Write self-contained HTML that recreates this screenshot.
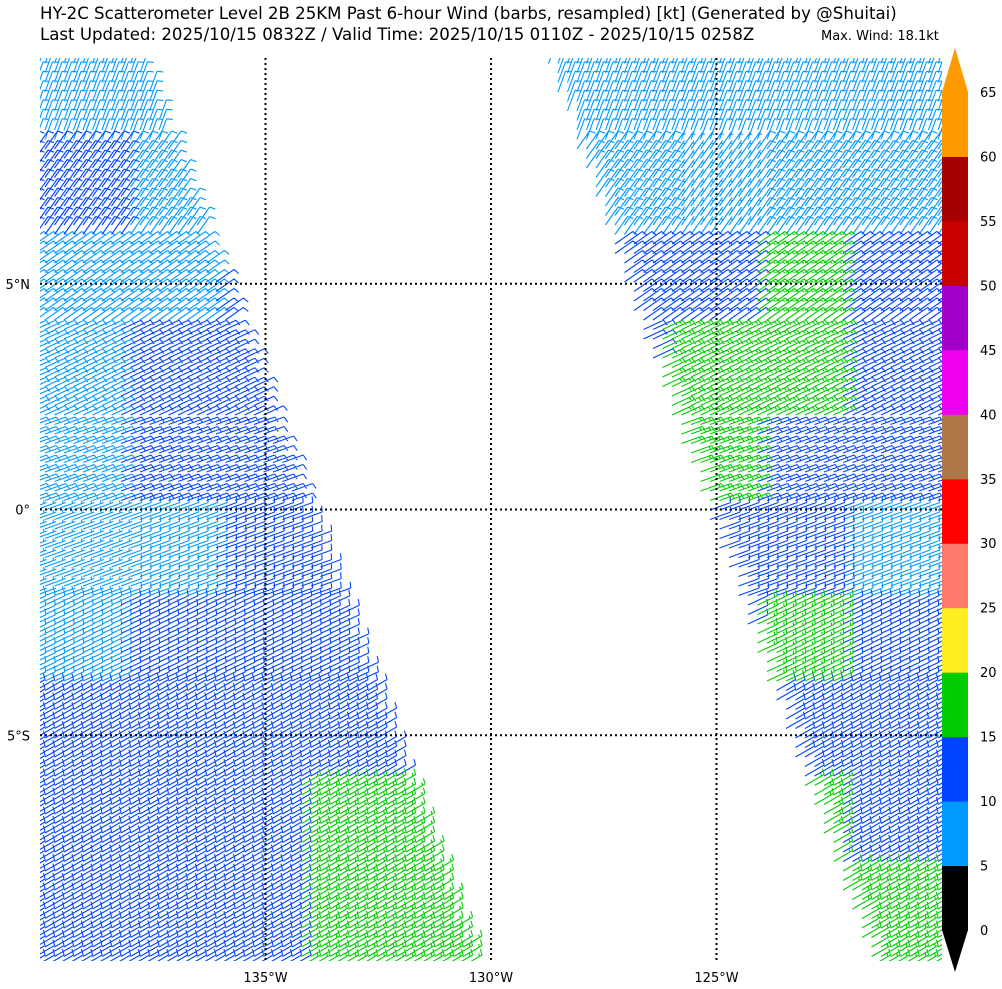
<!DOCTYPE html>
<html><head><meta charset="utf-8">
<style>
html,body{margin:0;padding:0;background:#fff;}
svg{display:block;font-family:"DejaVu Sans","Liberation Sans",sans-serif;}
</style></head>
<body>
<svg id="chart" width="1002" height="989" viewBox="0 0 1002 989" xmlns="http://www.w3.org/2000/svg">
<defs><clipPath id="plotclip"><rect x="40" y="58" width="902" height="903"/></clipPath></defs>
<text x="40" y="19" font-size="16.6" fill="#000">HY-2C Scatterometer Level 2B 25KM Past 6-hour Wind (barbs, resampled) [kt] (Generated by @Shuitai)</text>
<text x="40" y="40" font-size="16.6" fill="#000">Last Updated: 2025/10/15 0832Z / Valid Time: 2025/10/15 0110Z - 2025/10/15 0258Z</text>
<text x="821" y="40" font-size="13" fill="#000">Max. Wind: 18.1kt</text>
<g id="barbs" clip-path="url(#plotclip)"></g>
<g id="grid"></g>
<g id="axes"></g>
<g id="cbar"></g>
</svg>
<script>
// ---- data ----
const lonTicks = [-135, -130, -125];
const lonTickLabels = ["135°W", "130°W", "125°W"];
const latTicks = [5, 0, -5];
const latTickLabels = ["5°N", "0°", "5°S"];
const cbarLevels = [0,5,10,15,20,25,30,35,40,45,50,55,60,65];
const cbarColors = ["#000000","#0099ff","#0044ff","#00cc00","#ffee22","#ff7a6a","#ff0000","#b07848","#ee00ee","#a000c8","#c80000","#a80000","#ff9900"];
// coarse wind speed grid (kt): rows lat 10N..10S step 2deg, cols lon 140W..120W step 2deg
const speedGrid = [
 [ 8, 8, 8, 8, 8, 8, 8, 8, 8, 8],
 [11, 8, 8, 8, 8, 8, 8, 6, 8, 8],
 [ 8, 8,12,12,12,12,11,12,16,12],
 [ 8,11,12,12,12,12,11,16,16,12],
 [ 8,12,12,12,12,12,12,16,12,12],
 [ 7, 8,11,12,12,12,12,12,12, 8],
 [ 8,11,11,12,12,12,12,12,16,12],
 [11,12,12,12,12,12,12,12,12,12],
 [12,12,12,16,16,12,12,12,16,12],
 [12,12,12,16,16,12,12,12,12,16]
];
// wind-from direction per row (deg)
const dirRows = [20, 35, 55, 65, 70, 70, 65, 60, 60, 60];

// ---- axes ----
const X0 = 40, X1 = 942, Y0 = 58, Y1 = 961;
const lonMin = -140, lonMax = -120, latMax = 10, latMin = -10;
const xScale = lon => X0 + (lon - lonMin) / (lonMax - lonMin) * (X1 - X0);
const yScale = lat => Y0 + (latMax - lat) / (latMax - latMin) * (Y1 - Y0);
const cbY = v => 930 - v / 65 * (930 - 92);

const NS = "http://www.w3.org/2000/svg";
function mk(tag, attrs, parent){ const e=document.createElementNS(NS,tag); for(const k in attrs) e.setAttribute(k,attrs[k]); parent.appendChild(e); return e; }
function colorFor(s){ for(let i=0;i<cbarColors.length;i++){ if(s < cbarLevels[i+1]) return cbarColors[i]; } return cbarColors[cbarColors.length-1]; }

function inLeft(x,y){ const xr = 145 + (480-145)*(y-58)/903; return x>=X0-10 && x<=xr; }
function inRight(x,y){ const xl = 553 + (880-553)*(y-58)/903; return x>=xl && x<=X1+10; }

const barbG = document.getElementById('barbs');
const BL = 22, stepPx = 9.5;
const dstr = {};
for (let y = Y0-4; y <= Y1+8; y += stepPx) {
  for (let x = X0-14; x <= X1+4; x += stepPx) {
    const lat = latMax - (y - Y0) / (Y1 - Y0) * (latMax - latMin);
    const r = Math.min(9, Math.max(0, Math.floor((latMax - lat) / 2)));
    const d = dirRows[r] * Math.PI / 180;
    const ux = Math.sin(d), uy = -Math.cos(d);
    const mx = x + ux*BL/2, my = y + uy*BL/2;
    if (!(inLeft(mx,my) || inRight(mx,my))) continue;
    const lon = lonMin + (mx - X0) / (X1 - X0) * (lonMax - lonMin);
    const c = Math.min(9, Math.max(0, Math.floor((lon - lonMin) / 2)));
    const s = speedGrid[r][c];
    const tx = x + ux*BL, ty = y + uy*BL;
    const side = lat >= 0 ? 1 : -1;
    const px = -uy*side, py = ux*side;
    let p = `M${x.toFixed(1)} ${y.toFixed(1)}L${tx.toFixed(1)} ${ty.toFixed(1)}`;
    let rem = Math.round(s/5)*5, pos = 0;
    while (rem >= 10) {
      const bx = tx - ux*pos, by = ty - uy*pos;
      p += `M${bx.toFixed(1)} ${by.toFixed(1)}l${(px*6+ux*1.5).toFixed(1)} ${(py*6+uy*1.5).toFixed(1)}`;
      rem -= 10; pos += 3;
    }
    if (rem >= 5) {
      if (pos === 0) pos = 3;
      const bx = tx - ux*pos, by = ty - uy*pos;
      p += `M${bx.toFixed(1)} ${by.toFixed(1)}l${(px*3+ux*0.8).toFixed(1)} ${(py*3+uy*0.8).toFixed(1)}`;
    }
    const col = colorFor(s);
    dstr[col] = (dstr[col] || "") + p;
  }
}
for (const col in dstr) {
  const path = mk('path', {d: dstr[col], stroke: col, 'stroke-width': 1.1, fill: 'none'}, barbG);
  
  
}

const gridG = document.getElementById('grid');
const axesG = document.getElementById('axes');
lonTicks.forEach((lon, i) => {
  const x = xScale(lon);
  const l = mk('line', {x1:x, y1:Y0, x2:x, y2:Y1, stroke:'#000', 'stroke-width':2, 'stroke-dasharray':'2,3'}, gridG);
  
  
  const t = mk('text', {x:x, y:982, 'font-size':13, 'text-anchor':'middle'}, axesG);
  t.textContent = lonTickLabels[i];
  
  
});
latTicks.forEach((lat, i) => {
  const y = yScale(lat);
  const l = mk('line', {x1:X0, y1:y, x2:X1, y2:y, stroke:'#000', 'stroke-width':2, 'stroke-dasharray':'2,3'}, gridG);
  
  
  const t = mk('text', {x:30, y:y+5, 'font-size':13, 'text-anchor':'end'}, axesG);
  t.textContent = latTickLabels[i];
  
  
});

const cbG = document.getElementById('cbar');
const triMax = mk('polygon', {points:`942,${cbY(65)} 968,${cbY(65)} 955,48`, fill:'#ff9900'}, cbG);


const triMin = mk('polygon', {points:`942,${cbY(0)} 968,${cbY(0)} 955,972`, fill:'#000'}, cbG);


cbarColors.forEach((col, i) => {
  const y1 = cbY(cbarLevels[i+1]), y2 = cbY(cbarLevels[i]);
  const r = mk('rect', {x:942, y:y1, width:26, height:y2-y1+0.5, fill:col}, cbG);
  
  
});
cbarLevels.forEach(v => {
  const t = mk('text', {x:980, y:cbY(v)+5, 'font-size':13}, cbG);
  t.textContent = v;
  
  
});
</script>
</body></html>
